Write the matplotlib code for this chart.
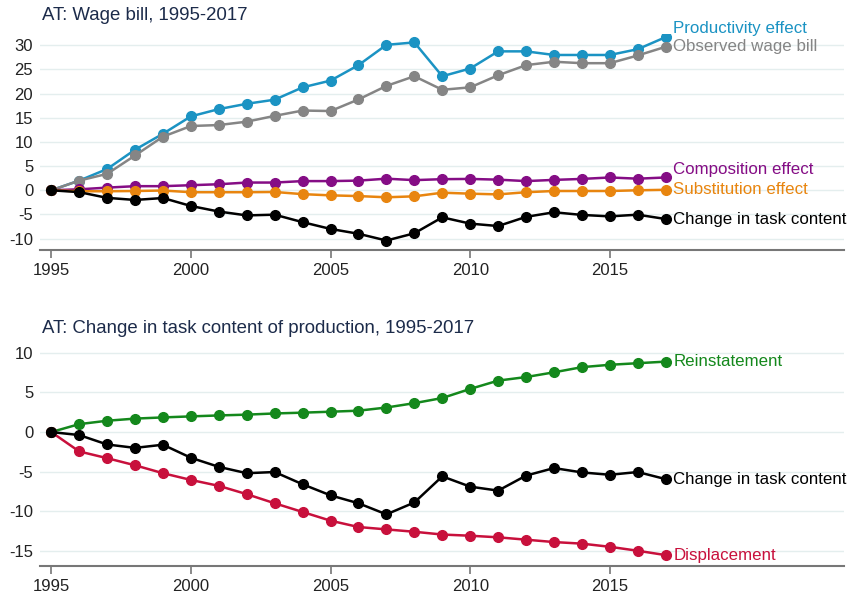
import matplotlib.pyplot as plt

plt.rcParams['font.family'] = ['Liberation Sans', 'DejaVu Sans']
plt.rcParams['axes.unicode_minus'] = False

years = list(range(1995, 2018))

# top panel: wage bill decomposition
productivity = [0, 2.0, 4.4, 8.4, 11.7, 15.3, 16.8, 17.9, 18.75, 21.3, 22.7, 25.9, 30.1, 30.6,
                23.6, 25.2, 28.75, 28.75, 28.0, 28.0, 28.0, 29.2, 31.7]
observed = [0, 2.0, 3.4, 7.2, 11.1, 13.3, 13.5, 14.2, 15.4, 16.5, 16.4, 18.8, 21.6, 23.6,
            20.8, 21.3, 23.8, 25.9, 26.6, 26.3, 26.3, 27.9, 29.7]
composition = [0, 0.2, 0.55, 0.85, 0.85, 1.05, 1.25, 1.6, 1.6, 1.9, 1.9, 2.0, 2.4, 2.1,
               2.3, 2.35, 2.2, 1.9, 2.15, 2.35, 2.65, 2.4, 2.65]
substitution = [0, -0.2, -0.2, -0.15, -0.05, -0.4, -0.4, -0.4, -0.35, -0.8, -1.05, -1.2, -1.45, -1.25,
                -0.5, -0.7, -0.85, -0.4, -0.15, -0.15, -0.15, 0.0, 0.1]
task_content = [0, -0.38, -1.57, -2.0, -1.6, -3.25, -4.4, -5.2, -5.05, -6.6, -8.0, -9.0, -10.4, -8.9,
                -5.6, -6.9, -7.4, -5.5, -4.55, -5.1, -5.4, -5.05, -5.95]

# bottom panel: task content decomposition
reinstatement = [0, 1.0, 1.43, 1.7, 1.85, 1.98, 2.1, 2.2, 2.35, 2.45, 2.57, 2.7, 3.1, 3.65,
                 4.3, 5.45, 6.5, 6.95, 7.55, 8.2, 8.5, 8.7, 8.9]
displacement = [0, -2.45, -3.3, -4.2, -5.2, -6.05, -6.8, -7.85, -9.0, -10.1, -11.2, -12.0, -12.3, -12.6,
                -12.95, -13.1, -13.3, -13.6, -13.9, -14.1, -14.5, -15.0, -15.55]

BLUE = '#1b93c3'
GRAY = '#858585'
PURPLE = '#850d85'
ORANGE = '#e8850f'
BLACK = '#000000'
GREEN = '#14881c'
RED = '#c8103c'
TITLE = '#1c2b4a'
GRID = '#e4eeee'


def style_axes(ax, ylim, yticks):
    ax.set_xlim(1994.6, 2023.4)
    ax.set_ylim(*ylim)
    ax.set_yticks(yticks)
    ax.set_xticks([1995, 2000, 2005, 2010, 2015])
    for s in ['left', 'right', 'top']:
        ax.spines[s].set_visible(False)
    ax.spines['bottom'].set_color('#777777')
    ax.spines['bottom'].set_linewidth(1.5)
    ax.tick_params(axis='y', length=0, labelsize=12, labelcolor='#222222', pad=5)
    ax.tick_params(axis='x', length=6, width=1.2, color='#777777', labelsize=12,
                   labelcolor='#222222')
    ax.grid(axis='y', color=GRID, linewidth=1)
    ax.set_axisbelow(True)


def draw(ax, values, color, label, dy=0):
    ax.plot(years, values, color=color, marker='o', markersize=7, linewidth=1.8)
    ax.annotate(label, (years[-1], values[-1]), xytext=(5.5, dy), textcoords='offset points',
                color=color, fontsize=12.2, va='center', ha='left')


fig = plt.figure(figsize=(8.53, 6), dpi=100)
ax1 = fig.add_axes([0.047, 0.583, 0.943, 0.36])
ax2 = fig.add_axes([0.047, 0.057, 0.943, 0.368])

style_axes(ax1, (-12.4, 32.3), [-10, -5, 0, 5, 10, 15, 20, 25, 30])
draw(ax1, productivity, BLUE, 'Productivity effect', dy=6.5)
draw(ax1, observed, GRAY, 'Observed wage bill')
draw(ax1, composition, PURPLE, 'Composition effect', dy=6)
draw(ax1, substitution, ORANGE, 'Substitution effect')
draw(ax1, task_content, BLACK, 'Change in task content')
fig.text(0.049, 0.975, 'AT: Wage bill, 1995-2017', color=TITLE, fontsize=13.4, va='center')

style_axes(ax2, (-16.9, 11.0), [-15, -10, -5, 0, 5, 10])
draw(ax2, reinstatement, GREEN, 'Reinstatement')
draw(ax2, displacement, RED, 'Displacement')
draw(ax2, task_content, BLACK, 'Change in task content')
fig.text(0.049, 0.453, 'AT: Change in task content of production, 1995-2017', color=TITLE,
         fontsize=13.4, va='center')

fig.savefig('out.png', dpi=100)
